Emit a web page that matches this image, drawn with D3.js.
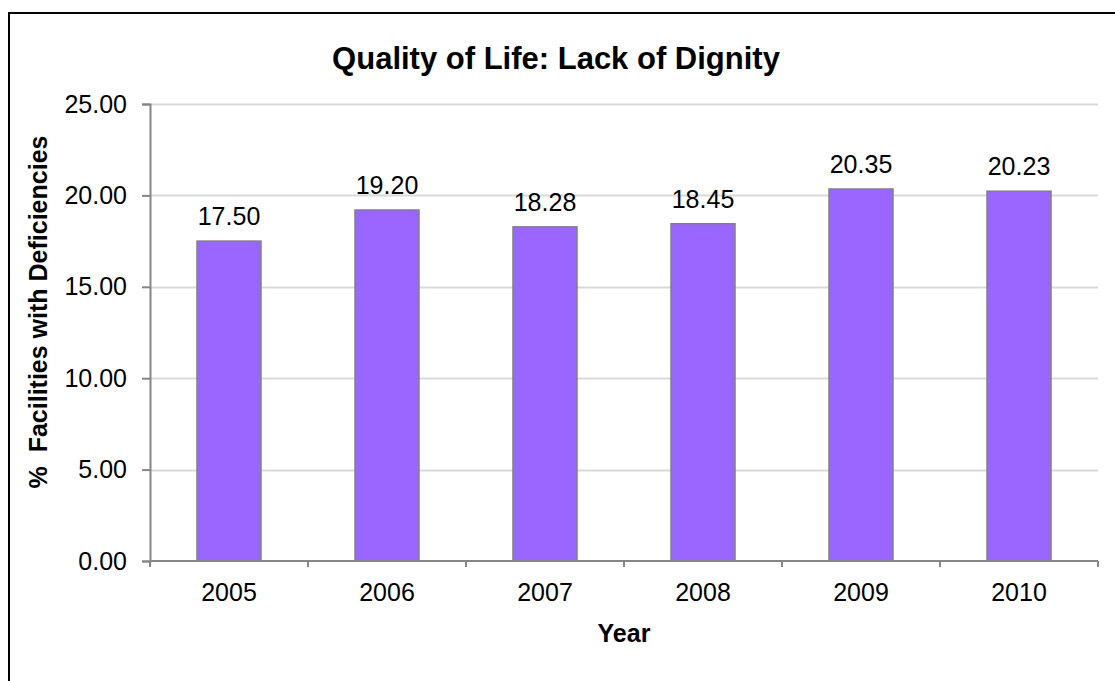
<!DOCTYPE html>
<html>
<head>
<meta charset="utf-8">
<script src="https://cdn.jsdelivr.net/npm/d3@7"></script>
<style>
html, body { margin: 0; padding: 0; background: #fff; }
svg { display: block; }
text { font-family: "Liberation Sans", Arial, sans-serif; }
</style>
</head>
<body>
<svg id="chart" width="1115" height="681"></svg>
<script>
const years = ["2005", "2006", "2007", "2008", "2009", "2010"];
const values = [17.50, 19.20, 18.28, 18.45, 20.35, 20.23];
const yTicks = [0, 5, 10, 15, 20, 25];
const titleText = "Quality of Life: Lack of Dignity";
const xTitle = "Year";
const yTitle = "%  Facilities with Deficiencies";

const svg = d3.select("#chart");
const W = 1115, H = 681;
const m = { left: 150, right: 1098, top: 104, bottom: 561 };
const FS = 25;

svg.append("rect").attr("x", 9).attr("y", 13).attr("width", W + 10).attr("height", H + 10)
  .attr("fill", "#fff").attr("stroke", "#000").attr("stroke-width", 2);

const x = d3.scaleBand().domain(years).range([m.left, m.right]).paddingInner(0.595).paddingOuter(0.2975);
const y = d3.scaleLinear().domain([0, 25]).range([m.bottom, m.top]);

// gridlines
svg.append("g").selectAll("line").data(yTicks.filter(d => d > 0)).join("line")
  .attr("x1", m.left).attr("x2", m.right)
  .attr("y1", d => Math.round(y(d)) + 0.5).attr("y2", d => Math.round(y(d)) + 0.5)
  .attr("stroke", "#d9d9d9").attr("stroke-width", 2);

// bars
svg.append("g").selectAll("rect").data(values).join("rect")
  .attr("x", (d, i) => x(years[i]))
  .attr("y", d => y(d))
  .attr("width", x.bandwidth())
  .attr("height", d => y(0) - y(d))
  .attr("fill", "#9966ff").attr("stroke", "#808080").attr("stroke-width", 1.5);

// data labels
svg.append("g").selectAll("text").data(values).join("text")
  .attr("x", (d, i) => x(years[i]) + x.bandwidth() / 2)
  .attr("y", d => y(d) - 16)
  .attr("text-anchor", "middle").attr("font-size", FS).attr("fill", "#000")
  .text(d => d.toFixed(2));

// y axis
const yAxis = d3.axisLeft(y).tickValues(yTicks).tickFormat(d => d.toFixed(2)).tickSize(8).tickPadding(15);
const gy = svg.append("g").attr("transform", `translate(${m.left},0)`).call(yAxis);
gy.select(".domain").attr("stroke", "#868686").attr("stroke-width", 2);
gy.selectAll(".tick line").attr("stroke", "#868686").attr("stroke-width", 2);
gy.selectAll(".tick text").attr("font-size", FS).attr("fill", "#000").style("font-family", "Liberation Sans, Arial, sans-serif");

// x axis
const xAxis = d3.axisBottom(x).tickSize(0).tickPadding(22);
const gx = svg.append("g").attr("transform", `translate(0,${m.bottom})`).call(xAxis);
gx.select(".domain").attr("stroke", "#868686").attr("stroke-width", 2).attr("d", `M${m.left},0H${m.right}`);
gx.selectAll(".tick text").attr("font-size", FS).attr("fill", "#000").style("font-family", "Liberation Sans, Arial, sans-serif");
// category separator ticks
const sepX = d3.range(years.length + 1).map(i => m.left + i * (m.right - m.left) / years.length);
gx.append("g").selectAll("line").data(sepX).join("line")
  .attr("x1", d => d).attr("x2", d => d).attr("y1", 0).attr("y2", 6)
  .attr("stroke", "#868686").attr("stroke-width", 2);

// titles
svg.append("text").attr("x", 556).attr("y", 69).attr("text-anchor", "middle")
  .attr("font-size", 31).attr("font-weight", "bold").text(titleText);
svg.append("text").attr("x", 624).attr("y", 642).attr("text-anchor", "middle")
  .attr("font-size", FS).attr("font-weight", "bold").text(xTitle);
svg.append("text").attr("transform", `translate(47,312) rotate(-90)`)
  .attr("text-anchor", "middle").attr("font-size", FS).attr("font-weight", "bold")
  .style("white-space", "pre").text(yTitle);
</script>
</body>
</html>
